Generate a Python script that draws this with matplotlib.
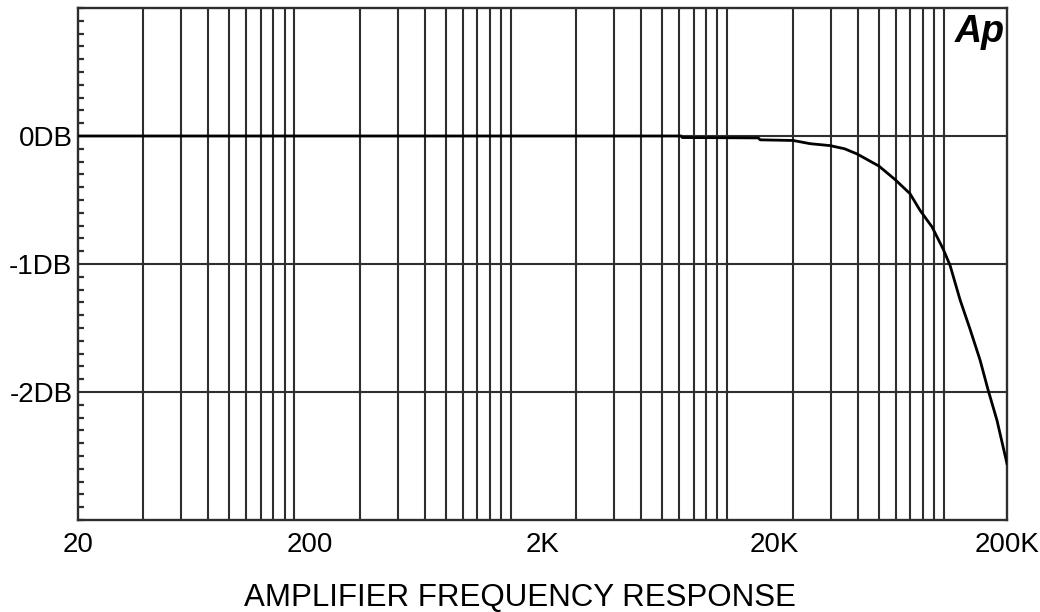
import numpy as np
import matplotlib
matplotlib.use("Agg")
import matplotlib.pyplot as plt
from matplotlib.ticker import FixedLocator, NullFormatter, MultipleLocator

plt.rcParams['font.family'] = ['Liberation Sans', 'DejaVu Sans']

# response (Hz, dB)
freq = [20, 7900, 8000, 17000, 17300, 24000, 28400, 34600, 40000, 45200,
        56200, 65900, 76400, 84400, 95100, 106000, 113700, 125600, 138700,
        153100, 165600, 181000, 200000]
level = [0.0, 0.0, -0.012, -0.015, -0.03, -0.035, -0.06, -0.075, -0.10, -0.14,
         -0.235, -0.34, -0.45, -0.58, -0.71, -0.88, -1.01, -1.28, -1.51,
         -1.75, -1.98, -2.22, -2.56]

xtick_vals = [20, 200, 2000, 20000, 200000]
xtick_labels = ['20', '200', '2K', '20K', '200K']
ytick_vals = [-2, -1, 0]
ytick_labels = ['-2DB', '-1DB', '0DB']

# grid decades in the original are a bit narrower than the labelled decades
grid_ratio = 0.932
grid_freqs = [20 * (k * 10 ** n) ** grid_ratio for n in range(4) for k in range(2, 11)]

fig = plt.figure(figsize=(10.4, 6.12), dpi=100)
ax = fig.add_axes([78 / 1040, 1 - 520 / 612, (1007 - 78) / 1040, (520 - 8) / 612])

ax.plot(freq, level, color='black', lw=2.0, zorder=3)

ax.set_xscale('log')
ax.set_xlim(20, 200000)
ax.set_ylim(-3, 1)

ax.xaxis.set_major_locator(FixedLocator(xtick_vals))
ax.set_xticklabels(xtick_labels)
ax.xaxis.set_minor_locator(FixedLocator(grid_freqs))
ax.xaxis.set_minor_formatter(NullFormatter())
ax.tick_params(axis='x', which='both', length=0, pad=9, labelsize=20)

ax.set_yticks(ytick_vals)
ax.set_yticklabels(ytick_labels)
ax.yaxis.set_minor_locator(MultipleLocator(0.1))
ax.tick_params(axis='y', which='major', length=0, pad=4, labelsize=20)
ax.tick_params(axis='y', which='minor', direction='in', length=4, width=1.6,
               color='#2e2e2e', left=True, right=False)

ax.grid(which='minor', axis='x', color='#2e2e2e', lw=1.5)
ax.grid(which='major', axis='y', color='#2e2e2e', lw=1.5)
ax.grid(which='major', axis='x', visible=False)

for s in ax.spines.values():
    s.set_color('#2e2e2e')
    s.set_linewidth(1.7)

ax.text(0.998, 0.988, 'Ap', transform=ax.transAxes, ha='right', va='top',
        fontsize=27, fontweight='heavy', fontstyle='italic', color='black')

fig.text(0.5, 6 / 612, 'AMPLIFIER FREQUENCY RESPONSE', ha='center', va='baseline',
         fontsize=22.5)

fig.savefig('out.png', dpi=100)
